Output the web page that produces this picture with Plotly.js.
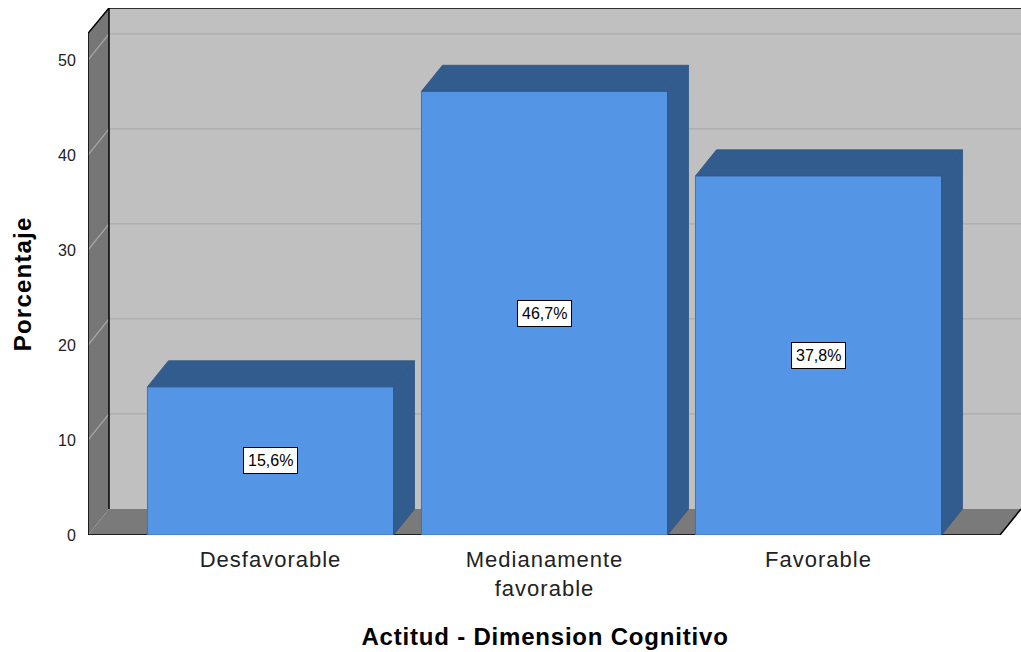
<!DOCTYPE html>
<html>
<head>
<meta charset="utf-8">
<script src="https://cdn.plot.ly/plotly-3.0.1.min.js"></script>
<style>
html,body{margin:0;padding:0;background:#fff;}
#chart{width:1021px;height:652px;}
#chart .xtick text{letter-spacing:1px;}
#chart g.annotation[data-index="3"] text{letter-spacing:0.8px;}
#chart g.annotation[data-index="4"] text{letter-spacing:1.2px;}
</style>
</head>
<body>
<div id="chart"></div>
<script>
// ---- data ----
const categories = ["Desfavorable", "Medianamente<br>favorable", "Favorable"];
const percentages = [15.6, 46.7, 37.8];
const valueLabels = ["15,6%", "46,7%", "37,8%"];
const yTicks = [0, 10, 20, 30, 40, 50];
const xTitle = "Actitud - Dimension Cognitivo";
const yTitle = "Porcentaje";

// ---- 3D geometry (style) ----
const FONT = "Liberation Sans, Arial, sans-serif";
const xmin = -0.666, xmax = 2.739;     // front-left edge .. back-right edge
const ymax = 55.47;                    // back wall top
const frontTop = 52.8;                 // front plane top
const dx = 0.0766, dy = 2.74;          // depth offset
const halfW = 0.449;
const xs = categories.map((_, i) => i);

const shapes = [];
const P = (pts) => 'M' + pts.map(p => p[0] + ',' + p[1]).join(' L') + ' Z';
// back wall
shapes.push({type:'path', xref:'x', yref:'y', layer:'below', path:P([[xmin+dx,dy],[xmin+dx,ymax],[xmax,ymax],[xmax,dy]]),
  fillcolor:'#C0C0C0', line:{width:0}});
// left wall
shapes.push({type:'path', xref:'x', yref:'y', layer:'below', path:P([[xmin,0],[xmin,frontTop],[xmin+dx,ymax],[xmin+dx,dy]]),
  fillcolor:'#767676', line:{width:0}});
// floor
shapes.push({type:'path', xref:'x', yref:'y', layer:'below', path:P([[xmin,0],[xmin+dx,dy],[xmax,dy],[xmax-dx,0]]),
  fillcolor:'#7A7A7A', line:{width:0}});
// gridlines
yTicks.filter(t => t > 0).forEach(t => {
  shapes.push({type:'line', xref:'x', yref:'y', layer:'below', x0:xmin+dx, x1:xmax, y0:t+dy, y1:t+dy, line:{color:'#ABABAB', width:1.3}});
  shapes.push({type:'line', xref:'x', yref:'y', layer:'below', x0:xmin, x1:xmin+dx, y0:t, y1:t+dy, line:{color:'#A6A6A6', width:1.3}});
});
// black outline edges
shapes.push({type:'path', xref:'x', yref:'y', layer:'below', path:'M'+xmin+',0 L'+xmin+','+frontTop+' L'+(xmin+dx)+','+ymax+' L'+xmax+','+ymax,
  fillcolor:'rgba(0,0,0,0)', line:{color:'#000', width:1.5}});
shapes.push({type:'line', xref:'x', yref:'y', layer:'below', x0:xmin+dx, x1:xmin+dx, y0:dy, y1:ymax, line:{color:'#000', width:1.5}});
shapes.push({type:'path', xref:'x', yref:'y', layer:'below', path:'M'+xmin+',0 L'+(xmax-dx)+',0 L'+xmax+','+dy,
  fillcolor:'rgba(0,0,0,0)', line:{color:'#000', width:1.5}});

const traces = [];
// front faces
traces.push({type:'bar', x:xs, y:percentages, width:2*halfW, marker:{color:'#5595E5', line:{color:'#3E73B8', width:1}},
  hoverinfo:'skip', showlegend:false});
// top & side faces
xs.forEach((c, i) => {
  const v = percentages[i];
  traces.push({type:'scatter', mode:'lines', fill:'toself', fillcolor:'#335C8E', line:{color:'#2E5585', width:0.8},
    x:[c-halfW, c-halfW+dx, c+halfW+dx, c+halfW, c-halfW], y:[v, v+dy, v+dy, v, v], hoverinfo:'skip', showlegend:false});
  traces.push({type:'scatter', mode:'lines', fill:'toself', fillcolor:'#335C8E', line:{color:'#2E5585', width:0.8},
    x:[c+halfW, c+halfW+dx, c+halfW+dx, c+halfW, c+halfW], y:[v, v+dy, dy, 0, v], hoverinfo:'skip', showlegend:false});
});

const annotations = xs.map((c, i) => ({
  x:c, y:percentages[i]/2, xref:'x', yref:'y', text:valueLabels[i], showarrow:false,
  bgcolor:'#FFFFFF', bordercolor:'#000', borderwidth:1, borderpad:4,
  font:{family:FONT, size:16, color:'#000'}
}));
annotations.push({x:1, xref:'x', y:-0.1935, yref:'paper', text:'<b>'+xTitle+'</b>', showarrow:false,
  xanchor:'center', yanchor:'middle', font:{family:FONT, size:24, color:'#000'}});
annotations.push({x:-0.0707, xref:'paper', y:frontTop/2, yref:'y', text:'<b>'+yTitle+'</b>', showarrow:false, textangle:-90,
  xanchor:'center', yanchor:'middle', font:{family:FONT, size:24, color:'#000'}});

const layout = {
  width:1021, height:652,
  margin:{l:88, r:0, t:8, b:117, pad:0},
  paper_bgcolor:'#FFFFFF', plot_bgcolor:'rgba(0,0,0,0)',
  showlegend:false,
  xaxis:{range:[xmin, xmax], tickvals:xs, ticktext:categories, showgrid:false, zeroline:false, showline:false,
    ticks:'outside', ticklen:5, tickcolor:'rgba(0,0,0,0)', tickfont:{family:FONT, size:22, color:'#222'}, fixedrange:true},
  yaxis:{range:[0, ymax], tickvals:yTicks, showgrid:false, zeroline:false, showline:false,
    ticks:'outside', ticklen:8, tickcolor:'rgba(0,0,0,0)', tickfont:{family:FONT, size:16, color:'#222'}, fixedrange:true},
  shapes:shapes, annotations:annotations
};
Plotly.newPlot('chart', traces, layout, {displayModeBar:false, staticPlot:true});
</script>
</body>
</html>
